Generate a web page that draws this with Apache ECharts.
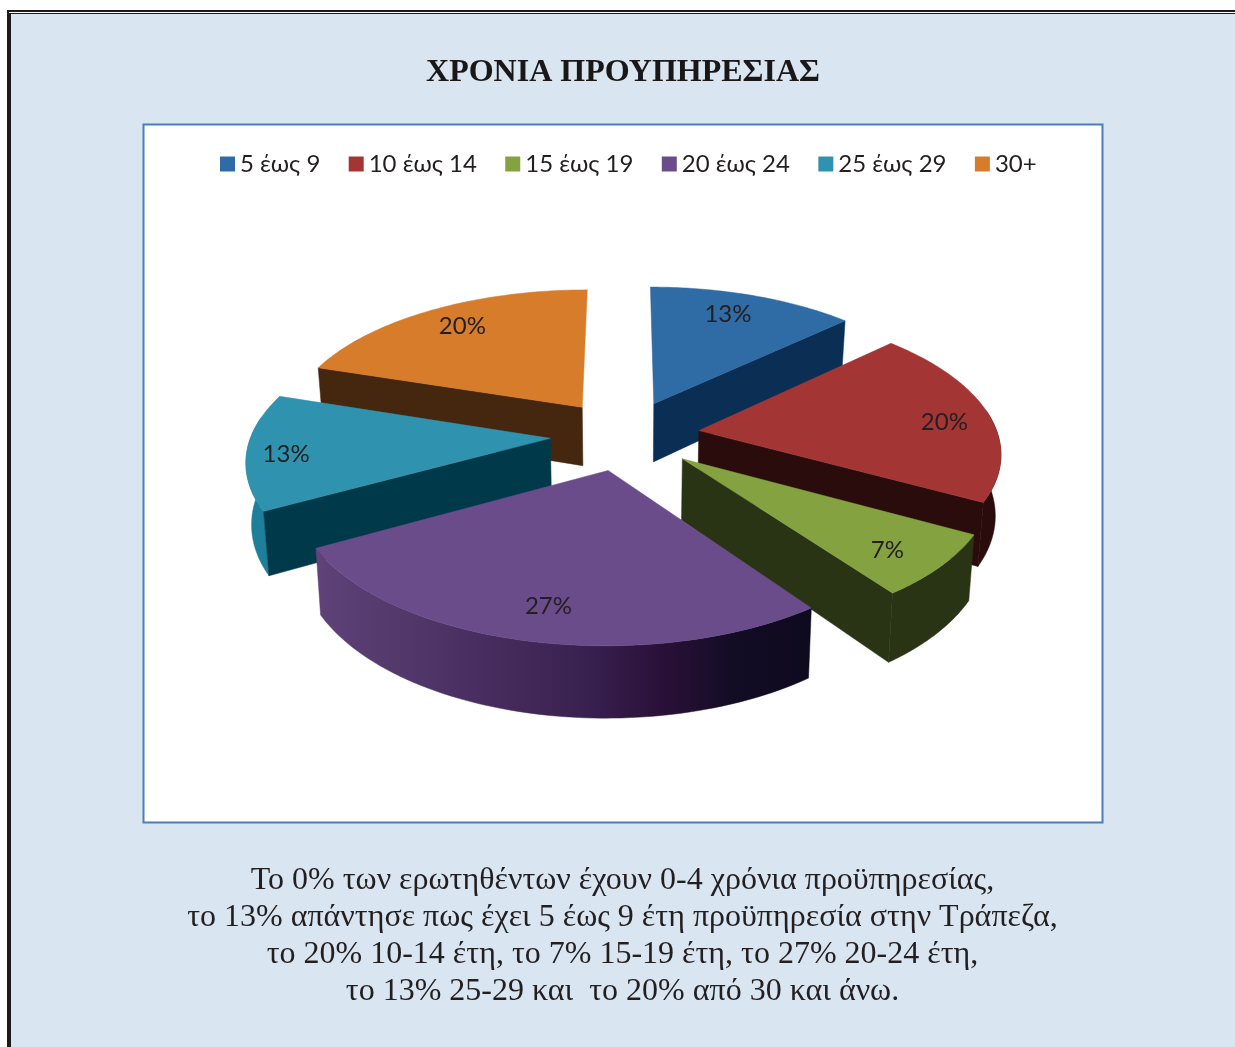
<!DOCTYPE html>
<html>
<head>
<meta charset="utf-8">
<style>html,body{margin:0;padding:0;background:#fff}#c{width:1235px;height:1047px}</style>
<script src="https://cdn.jsdelivr.net/npm/echarts@6/dist/echarts.min.js"></script>
</head>
<body>
<div id="c"></div>
<script>
const titleText = 'ΧΡΟΝΙΑ ΠΡΟΥΠΗΡΕΣΙΑΣ';
const captionLines = [
  'Το 0% των ερωτηθέντων έχουν 0-4 χρόνια προϋπηρεσίας,',
  'το 13% απάντησε πως έχει 5 έως 9 έτη προϋπηρεσία στην Τράπεζα,',
  'το 20% 10-14 έτη, το 7% 15-19 έτη, το 27% 20-24 έτη,',
  'το 13% 25-29 και  το 20% από 30 και άνω.'
];
const categories = ['5 έως 9', '10 έως 14', '15 έως 19', '20 έως 24', '25 έως 29', '30+'];
const values = [13, 20, 7, 27, 13, 20];
const topColors = ['#2F6BA5', '#A43535', '#84A23F', '#6A4C8A', '#2F93AF', '#D67C2A'];
const sideColors = ['#0A2E54', '#2B0C0D', '#293415', '#2A1A40', '#003A4A', '#44270E'];
const wallColors = [
  '#0A2E54', '#2B0C0D', '#293415',
  new echarts.graphic.LinearGradient(318, 0, 810, 0, [
    {offset: 0, color: '#5E4278'},
    {offset: 0.3, color: '#4A3062'},
    {offset: 0.55, color: '#38204F'},
    {offset: 0.7, color: '#2A1038'},
    {offset: 0.85, color: '#120C24'},
    {offset: 1, color: '#0E0A1E'}
  ], true),
  '#1D7F9A', '#44270E'
];
const drawOrder = [5, 0, 4, 1, 2, 3];
// small pixel nudges of the percentage labels from their radial spot
const labelNudge = [[-14, 6], [8, 6], [12, 11], [-2, 14], [-21, 5], [12, 4]];

// view of the tilted pie
const view = {cx: 625, cy: 435, rx: 299, ry: 140.6, k: 0.137, explode: 0.25, depth: 60, squeeze: 0.985};
const total = values.reduce((a, b) => a + b, 0);

function project(px, py, down) {
  const w = 1 + view.k * py;
  const f = down ? view.squeeze : 1;
  return [
    view.cx + f * view.rx * px / w,
    view.cy - view.ry * py / w + (down ? view.depth / w : 0)
  ];
}

function renderSlice(idx) {
  return function (params, api) {
    const value = api.value(0), before = api.value(1);
    const a0 = before / total * 2 * Math.PI;
    const a1 = (before + value) / total * 2 * Math.PI;
    const mid = (a0 + a1) / 2;
    const ox = view.explode * Math.sin(mid), oy = view.explode * Math.cos(mid);
    const topArc = [], botArc = [], wallTop = [], wallBot = [];
    const steps = 64;
    for (let i = 0; i <= steps; i++) {
      const a = a0 + (a1 - a0) * i / steps;
      const px = ox + Math.sin(a), py = oy + Math.cos(a);
      const t = project(px, py, false), b = project(px, py, true);
      topArc.push(t);
      botArc.push(b);
      // the outer wall only shows where it turns towards the viewer
      if (Math.cos(a) < 0.15) { wallTop.push(t); wallBot.push(b); }
    }
    const apexT = project(ox, oy, false), apexB = project(ox, oy, true);
    const poly = (points, fill) => ({type: 'polygon', shape: {points}, style: {fill, stroke: fill, lineWidth: 0.5}});
    const children = [];
    if (wallTop.length > 1) children.push(poly(wallTop.concat(wallBot.slice().reverse()), wallColors[idx]));
    // only the cut faces that turn towards the viewer are drawn
    if (Math.sin(a0) < -1e-6) children.push(poly([apexT, topArc[0], botArc[0], apexB], sideColors[idx]));
    if (Math.sin(a1) > 1e-6) children.push(poly([apexT, topArc[steps], botArc[steps], apexB], sideColors[idx]));
    children.push(poly([apexT].concat(topArc), topColors[idx]));
    const r = 1.06 + 0.07 * Math.cos(mid);
    const lp = project(r * Math.sin(mid), r * Math.cos(mid), false);
    children.push({
      type: 'text',
      style: {
        x: lp[0] + labelNudge[idx][0], y: lp[1] + labelNudge[idx][1], text: value + '%', fill: '#231F20',
        font: '24px Lato', align: 'center', verticalAlign: 'middle'
      }
    });
    return {type: 'group', children};
  };
}

let running = 0;
const cumulative = values.map(v => { const c = running; running += v; return c; });

const chart = echarts.init(document.getElementById('c'));
chart.setOption({
  animation: false,
  title: [
    {
      text: titleText, left: 623, top: 57, textAlign: 'center', padding: 0, z: 10,
      textStyle: {fontFamily: '"Liberation Serif"', fontSize: 32, fontWeight: 'bold', color: '#1A1718'}
    },
    {
      text: captionLines.join('\n'), left: 622.5, top: 862, textAlign: 'center', padding: 0, z: 10,
      textStyle: {fontFamily: '"Liberation Serif"', fontSize: 32, fontWeight: 'normal', color: '#231F20', lineHeight: 37, align: 'center'}
    }
  ],
  legend: {
    data: categories, left: 220, top: 152, padding: 0, itemWidth: 15, itemHeight: 15, itemGap: 28.4,
    icon: 'rect', selectedMode: false, z: 10,
    textStyle: {fontFamily: 'Lato', fontSize: 24, color: '#231F20', padding: [0, 0, 0, 0]}
  },
  graphic: [
    {type: 'rect', z: -10, shape: {x: 7, y: 10, width: 1228, height: 1037}, style: {fill: '#1C1A1B'}},
    {type: 'rect', z: -9, shape: {x: 9, y: 12, width: 1226, height: 1}, style: {fill: '#FFFFFF'}},
    {type: 'rect', z: -8, shape: {x: 11, y: 14, width: 1224, height: 1033}, style: {fill: '#D9E5F1'}},
    {type: 'rect', z: -7, shape: {x: 143.5, y: 124.5, width: 959, height: 698}, style: {fill: '#FFFFFF', stroke: '#4A7EBB', lineWidth: 2}}
  ],
  series: drawOrder.map(i => ({
    type: 'custom',
    name: categories[i],
    coordinateSystem: 'none',
    silent: true,
    z: 2,
    itemStyle: {color: topColors[i]},
    renderItem: renderSlice(i),
    data: [[values[i], cumulative[i]]]
  }))
});
</script>
</body>
</html>
